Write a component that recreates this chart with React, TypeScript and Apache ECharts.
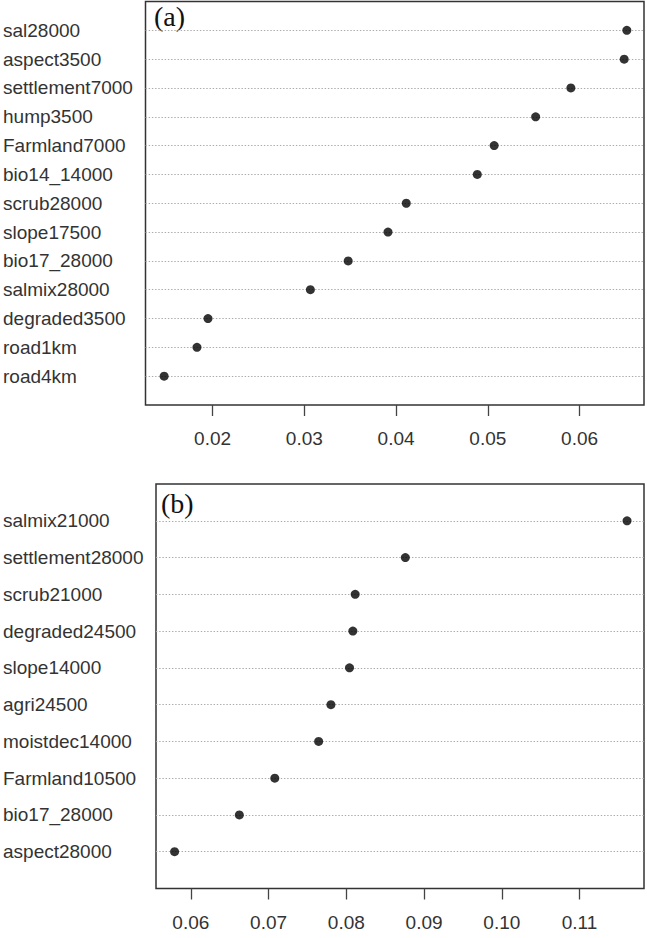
import React, { useEffect, useRef } from "react";
import * as echarts from "echarts";

const namesA = [
  "sal28000", "aspect3500", "settlement7000", "hump3500", "Farmland7000",
  "bio14_14000", "scrub28000", "slope17500", "bio17_28000", "salmix28000",
  "degraded3500", "road1km", "road4km",
];
const valuesA = [
  0.06515, 0.06486, 0.05905, 0.05521, 0.05069, 0.04885, 0.04111, 0.03912,
  0.03478, 0.03066, 0.0195, 0.0183, 0.01472,
];
const ticksA = [0.02, 0.03, 0.04, 0.05, 0.06];

const namesB = [
  "salmix21000", "settlement28000", "scrub21000", "degraded24500", "slope14000",
  "agri24500", "moistdec14000", "Farmland10500", "bio17_28000", "aspect28000",
];
const valuesB = [
  0.11611, 0.08759, 0.08114, 0.08084, 0.08041, 0.07802, 0.07644, 0.0708,
  0.06624, 0.05791,
];
const ticksB = [0.06, 0.07, 0.08, 0.09, 0.1, 0.11];

const SANS = "'Liberation Sans', Arial, sans-serif";
const SERIF = "'Liberation Serif', 'Times New Roman', serif";

function panel(
  idx: number,
  names: string[],
  values: number[],
  ticks: number[],
  xmin: number,
  xmax: number,
  labelMargin: number
) {
  const n = names.length;
  const xAxis = {
    gridIndex: idx,
    type: "value",
    min: xmin,
    max: xmax,
    position: "bottom",
    axisLine: { show: false },
    splitLine: { show: false },
    axisTick: {
      show: true,
      length: 11,
      customValues: ticks,
      lineStyle: { color: "#444", width: 1.3 },
    },
    axisLabel: {
      show: true,
      customValues: ticks,
      margin: 24,
      fontFamily: SANS,
      fontSize: 19,
      color: "#333",
      formatter: (v: number) => v.toFixed(2),
    },
  };
  const yAxis = {
    gridIndex: idx,
    type: "value",
    min: 0,
    max: n + 1,
    interval: 1,
    axisLine: { show: false },
    axisTick: { show: false },
    splitLine: { show: false },
    axisLabel: {
      show: true,
      align: "left",
      margin: labelMargin,
      fontFamily: SANS,
      fontSize: 19,
      color: "#333",
      formatter: (v: number) => {
        const i = n - Math.round(v);
        return i >= 0 && i < n && v > 0 ? names[i] : "";
      },
    },
  };
  const series = {
    type: "scatter",
    xAxisIndex: idx,
    yAxisIndex: idx,
    z: 10,
    symbol: "circle",
    symbolSize: 9,
    itemStyle: { color: "#000" },
    silent: true,
    data: values.map((v, i) => [v, n - i]),
    markLine: {
      silent: true,
      symbol: ["none", "none"],
      label: { show: false },
      animation: false,
      lineStyle: { color: "#aaa", type: [1.4, 1.8], width: 1.2 },
      data: names.map((_, i) => ({ yAxis: n - i })),
    },
  };
  return { xAxis, yAxis, series };
}

export default function App() {
  const ref = useRef<HTMLDivElement>(null);
  useEffect(() => {
    if (!ref.current) return;
    const chart = echarts.init(ref.current, undefined, { renderer: "svg" });
    const a = panel(0, namesA, valuesA, ticksA, 0.01269, 0.06702, 142.5);
    const b = panel(1, namesB, valuesB, ticksB, 0.05552, 0.11829, 153);
    chart.setOption({
      animation: false,
      backgroundColor: "#fff",
      grid: [
        {
          left: 143.5, top: 1.5, width: 500.5, height: 403.5,
          show: true, borderColor: "#333", borderWidth: 1.5,
        },
        {
          left: 154, top: 484, width: 490, height: 404.5,
          show: true, borderColor: "#333", borderWidth: 1.5,
        },
      ],
      xAxis: [a.xAxis, b.xAxis],
      yAxis: [a.yAxis, b.yAxis],
      series: [a.series, b.series],
      graphic: [
        {
          type: "text", left: 154, top: 2,
          style: { text: "(a)", font: `28px ${SERIF}`, fill: "#111" },
        },
        {
          type: "text", left: 161, top: 489,
          style: { text: "(b)", font: `28px ${SERIF}`, fill: "#111" },
        },
      ],
    });
    return () => chart.dispose();
  }, []);
  return (
    <div
      ref={ref}
      style={{ position: "absolute", left: 0, top: 0, width: 647, height: 938 }}
    />
  );
}
